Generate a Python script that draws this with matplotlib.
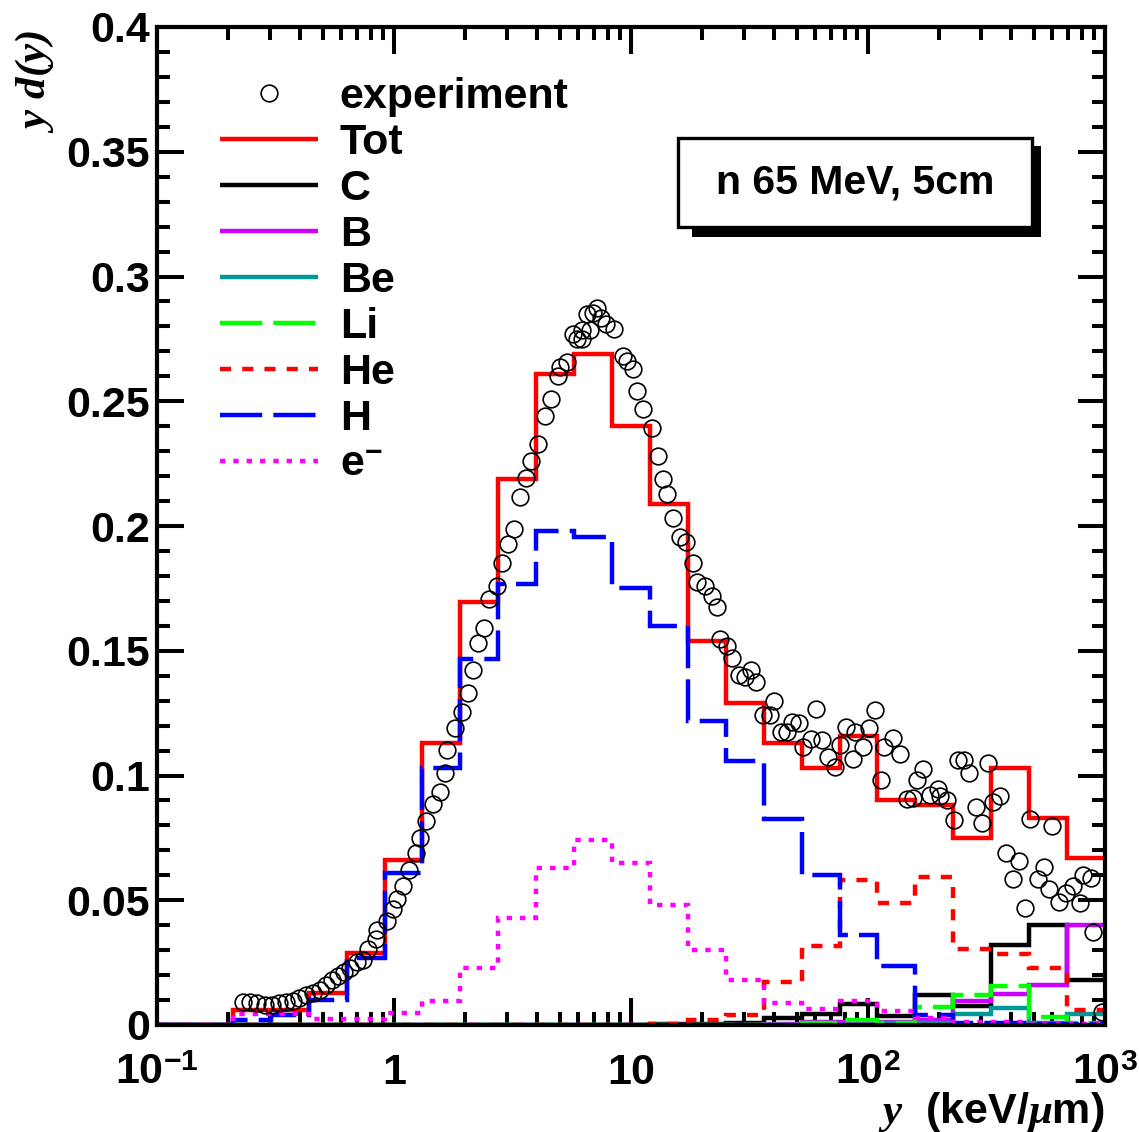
import numpy as np
import matplotlib
matplotlib.use("Agg")
import matplotlib.pyplot as plt
from matplotlib.lines import Line2D
from matplotlib.patches import Rectangle
from matplotlib.ticker import LogLocator, MultipleLocator, NullFormatter

plt.rcParams['font.family'] = ['Liberation Sans', 'DejaVu Sans']
plt.rcParams['font.weight'] = 'bold'
plt.rcParams['mathtext.fontset'] = 'custom'
plt.rcParams['mathtext.rm'] = 'Liberation Sans:bold'
plt.rcParams['mathtext.it'] = 'Liberation Serif:italic'
plt.rcParams['mathtext.bf'] = 'Liberation Serif:bold:italic'

# 25 logarithmic bins from 0.1 to 1000 keV/um
bin_edges = np.logspace(-1, 3, 26)

# simulated y d(y) per bin
tot = [0, 0, 0.006, 0.006, 0.0128, 0.029, 0.066, 0.113, 0.1695, 0.219,
       0.261, 0.269, 0.240, 0.209, 0.154, 0.129, 0.113, 0.103, 0.116, 0.090,
       0.088, 0.075, 0.103, 0.083, 0.067]
carbon = [0, 0, 0, 0, 0, 0, 0, 0, 0, 0,
          0, 0, 0, 0.0003, 0.0005, 0.001, 0.003, 0.0045, 0.0085, 0.0036,
          0.012, 0.0076, 0.032, 0.040, 0.018]
boron = [0, 0, 0, 0, 0, 0, 0, 0, 0, 0,
         0, 0, 0, 0, 0, 0, 0.0005, 0.0012, 0.0012, 0.0012,
         0.002, 0.0097, 0.0124, 0.016, 0.040]
beryllium = [0, 0, 0, 0, 0, 0, 0, 0, 0, 0,
             0, 0, 0, 0, 0, 0, 0, 0, 0, 0.0008,
             0.001, 0.0045, 0.0068, 0.001, 0.0045]
lithium = [0, 0, 0, 0, 0, 0, 0, 0, 0, 0,
           0, 0, 0, 0, 0, 0, 0, 0.001, 0.002, 0.001,
           0.0072, 0.012, 0.0156, 0.0032, 0.001]
helium = [0, 0, 0, 0, 0, 0, 0, 0, 0, 0,
          0, 0, 0, 0.0005, 0.002, 0.004, 0.0173, 0.0317, 0.058, 0.049,
          0.0595, 0.0305, 0.0285, 0.0228, 0.006]
hydrogen = [0, 0, 0.002, 0.004, 0.010, 0.027, 0.061, 0.103, 0.1467, 0.1767,
            0.198, 0.1955, 0.175, 0.160, 0.122, 0.106, 0.0825, 0.060, 0.036, 0.0236,
            0.004, 0.001, 0.001, 0.0005, 0.0005]
electron = [0, 0, 0.0044, 0.0044, 0.0024, 0.0024, 0.0048, 0.0096, 0.023, 0.043,
            0.063, 0.074, 0.065, 0.048, 0.030, 0.018, 0.009, 0.0065, 0.0096, 0.0056,
            0.003, 0.0012, 0.0012, 0.0005, 0.0005]

# measured spectrum
exp_x = [0.2306, 0.2468, 0.2642, 0.2856, 0.3056, 0.3271, 0.3501, 0.3748, 0.3974, 0.4252,
         0.4552, 0.4873, 0.5165, 0.5476, 0.5804, 0.6152, 0.6522, 0.6979, 0.7400, 0.7767,
         0.8396, 0.8478, 0.9342, 0.9903, 1.030, 1.091, 1.157, 1.238, 1.287, 1.365,
         1.461, 1.563, 1.641, 1.673, 1.809, 1.936, 2.052, 2.154, 2.262, 2.398,
         2.517, 2.720, 2.856, 3.027, 3.208, 3.401, 3.606, 3.785, 4.052, 4.337,
         4.597, 4.920, 5.017, 5.370, 5.690, 5.916, 6.211, 6.211, 6.520, 6.714,
         6.913, 7.187, 7.472, 7.843, 8.479, 9.253, 9.618, 10.20, 10.60, 11.24,
         12.27, 13.00, 13.65, 14.19, 15.04, 16.10, 17.07, 18.26, 18.99, 20.52,
         21.97, 23.07, 23.75, 25.42, 26.69, 28.57, 30.27, 32.08, 33.69, 36.06,
         38.60, 40.13, 42.96, 45.53, 47.79, 51.17, 53.19, 57.47, 60.33, 63.95,
         67.79, 72.57, 76.18, 80.75, 86.45, 88.14, 95.25, 101.0, 107.0, 113.5,
         116.8, 127.5, 136.5, 146.1, 154.8, 161.0, 170.7, 182.6, 197.4, 201.3,
         215.4, 230.7, 239.8, 254.2, 266.9, 285.6, 302.7, 320.9, 336.9, 360.6,
         382.2, 409.1, 433.7, 459.7, 482.6, 521.7, 552.9, 580.4, 597.5, 639.5,
         684.5, 732.8, 784.4, 807.6, 873.1, 889.9, 971.2]
exp_y = [0.0092, 0.0092, 0.0088, 0.0080, 0.0080, 0.0088, 0.0092, 0.0096, 0.0108, 0.0120,
         0.0128, 0.0140, 0.0160, 0.0180, 0.0196, 0.0212, 0.0228, 0.0253, 0.0261, 0.0305,
         0.0345, 0.0381, 0.0417, 0.0465, 0.0505, 0.0557, 0.0621, 0.0689, 0.0750, 0.0818,
         0.0886, 0.0934, 0.1010, 0.1102, 0.1190, 0.1255, 0.1331, 0.1423, 0.1531, 0.1591,
         0.1707, 0.1760, 0.1852, 0.1928, 0.1988, 0.2116, 0.2192, 0.2261, 0.2329, 0.2441,
         0.2509, 0.2601, 0.2637, 0.2657, 0.2770, 0.2750, 0.2750, 0.2786, 0.2850, 0.2786,
         0.2854, 0.2874, 0.2834, 0.2810, 0.2790, 0.2681, 0.2661, 0.2629, 0.2541, 0.2469,
         0.2393, 0.2281, 0.2188, 0.2128, 0.2032, 0.1956, 0.1936, 0.1852, 0.1776, 0.1760,
         0.1719, 0.1675, 0.1547, 0.1519, 0.1471, 0.1403, 0.1395, 0.1423, 0.1375, 0.1242,
         0.1242, 0.1299, 0.1174, 0.1174, 0.1214, 0.1210, 0.1114, 0.1146, 0.1267, 0.1142,
         0.1074, 0.1034, 0.1122, 0.1194, 0.1066, 0.1174, 0.1114, 0.1190, 0.1263, 0.0982,
         0.1114, 0.1150, 0.1086, 0.0906, 0.0910, 0.0982, 0.1026, 0.0922, 0.0946, 0.0918,
         0.0902, 0.0822, 0.1062, 0.1062, 0.1010, 0.0874, 0.0810, 0.1050, 0.0894, 0.0918,
         0.0689, 0.0585, 0.0657, 0.0469, 0.0826, 0.0585, 0.0633, 0.0545, 0.0798, 0.0493,
         0.0529, 0.0557, 0.0489, 0.0601, 0.0589, 0.0373, 0.0052]

series_labels = ['Tot', 'C', 'B', 'Be', 'Li', 'He', 'H', 'e$^{-}$']
series_values = [tot, carbon, boron, beryllium, lithium, helium, hydrogen, electron]
series_colors = ['#ff0000', '#000000', '#cc00ff', '#009999',
                 '#00ff00', '#ff0000', '#0000ff', '#ff00ff']
series_styles = ['-', '-', '-', '-', (0, (9.5, 2.5)), (0, (2.5, 2.5)),
                 (0, (9.5, 2.5)), (0, (1.2, 1.8))]

xtick_vals = [0.1, 1, 10, 100, 1000]
xtick_labels = ['$10^{-1}$', '1', '10', '$10^{2}$', '$10^{3}$']
ytick_vals = [0, 0.05, 0.1, 0.15, 0.2, 0.25, 0.3, 0.35, 0.4]
ytick_labels = ['0', '0.05', '0.1', '0.15', '0.2', '0.25', '0.3', '0.35', '0.4']

W, H = 1139, 1132
LW = 3.2
FS = 31

fig = plt.figure(figsize=(W / 100, H / 100), dpi=100)
ax = fig.add_axes([157 / W, 107 / H, 948 / W, 998 / H])

handles = [Line2D([], [], marker='o', ls='none', mfc='none', mec='black',
                  ms=12, mew=1.2)]
for i, (vals, col, ls) in enumerate(zip(series_values, series_colors, series_styles)):
    ax.stairs(vals, bin_edges, baseline=None, color=col, lw=LW, linestyle=ls,
              joinstyle='miter', capstyle='butt', zorder=3 + i * 0.1)
    handles.append(Line2D([], [], color=col, lw=LW, ls=ls,
                          dash_capstyle='butt', solid_capstyle='butt'))

ax.plot(exp_x, exp_y, 'o', mfc='none', mec='black', ms=12, mew=1.2, zorder=5)

ax.set_xscale('log')
ax.set_xlim(0.1, 1000)
ax.set_ylim(0, 0.4)
ax.set_xticks(xtick_vals, labels=xtick_labels)
ax.xaxis.set_minor_locator(LogLocator(base=10, subs=np.arange(2, 10), numticks=20))
ax.xaxis.set_minor_formatter(NullFormatter())
ax.set_yticks(ytick_vals, labels=ytick_labels)
ax.yaxis.set_minor_locator(MultipleLocator(0.01))

ax.tick_params(which='both', direction='in', top=True, right=True, width=2.9)
ax.tick_params(which='major', length=19.5)
ax.tick_params(which='minor', length=9.5)
ax.tick_params(axis='y', pad=5, labelsize=FS)
ax.tick_params(axis='x', pad=42.5, labelsize=FS)
for lbl in ax.get_xticklabels():
    lbl.set_va('baseline')
for s in ax.spines.values():
    s.set_linewidth(3)
    s.set_zorder(4)

ax.legend(handles, ['experiment'] + series_labels, loc='upper left',
          bbox_to_anchor=(0.0665, 0.950), frameon=False,
          prop={'family': 'Liberation Sans', 'weight': 'bold', 'size': FS},
          handlelength=2.28, handletextpad=0.5, labelspacing=0.14,
          borderpad=0, borderaxespad=0)

# label box with drop shadow
ax.add_patch(Rectangle((0.5643, 0.7896), 0.9325 - 0.5643, 0.8808 - 0.7896,
                       transform=ax.transAxes, facecolor='black',
                       edgecolor='none', zorder=20))
ax.add_patch(Rectangle((0.5500, 0.8000), 0.9225 - 0.5500, 0.8885 - 0.8000,
                       transform=ax.transAxes, facecolor='white',
                       edgecolor='black', lw=2.4, zorder=21))
ax.text(0.736, 0.8437, 'n 65 MeV, 5cm', transform=ax.transAxes, ha='center',
        va='center', fontsize=29.5, fontweight='bold', zorder=22)

fig.text(35 / W, 1 - 30 / H, r'$y\ \mathbf{d(y)}$', rotation=90, ha='center',
         va='top', fontsize=FS)
fig.text(1104 / W, 1 - 1123 / H, r'$y$  (keV/$\mu$m)', ha='right',
         va='baseline', fontsize=FS, fontweight='bold')

fig.savefig('out.png', dpi=100)
